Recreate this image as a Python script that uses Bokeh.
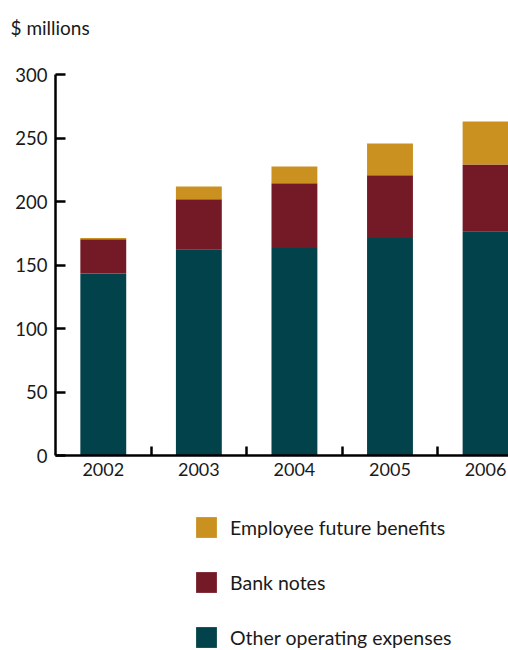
from bokeh.plotting import figure
from bokeh.models import Range1d, FixedTicker, Legend, LegendItem
from bokeh.layouts import column
from bokeh.embed import file_html
from bokeh.resources import INLINE

years = ["2002", "2003", "2004", "2005", "2006"]
other = [143.3, 162.4, 163.4, 171.3, 176.5]
bank_notes = [26.9, 39.3, 50.9, 49.3, 52.7]
employee = [1.1, 10.2, 13.3, 25.1, 33.8]
y_ticks = [0, 50, 100, 150, 200, 250, 300]

series_names = ["Other operating expenses", "Bank notes", "Employee future benefits"]
colors = ["#02424A", "#741A27", "#CA9120"]
unit_label = "$ millions"

FONT = "Lato"
TXT = "#1a1a1a"

xs = [i + 0.5 for i in range(len(years))]
data = dict(x=xs, other=other, bank=bank_notes, emp=employee)

# Header carrying the unit label as its title
hf = figure(frame_width=453, frame_height=5, output_backend="svg", toolbar_location=None,
            x_range=Range1d(0, 1), y_range=Range1d(0, 1),
            x_axis_type=None, y_axis_type=None,
            min_border_left=55, min_border_right=0, min_border_top=43, min_border_bottom=0)
hf.outline_line_color = None
hf.xgrid.grid_line_color = None
hf.ygrid.grid_line_color = None
hf.title.text = unit_label
hf.title.text_font = FONT
hf.title.text_font_size = "19px"
hf.title.text_font_style = "normal"
hf.title.text_color = TXT
hf.title.align = "left"
hf.title.offset = -45
hf.title.standoff = 10

p = figure(frame_width=453, frame_height=381, output_backend="svg", toolbar_location=None,
           x_range=Range1d(0, 4.74), y_range=Range1d(0, 300),
           min_border_left=55, min_border_right=0, min_border_top=26,
           min_border_bottom=40)

rs = p.vbar_stack(["other", "bank", "emp"], x="x", width=0.48, color=colors,
                  source=data, line_width=0)

p.outline_line_color = None
p.xgrid.grid_line_color = None
p.ygrid.grid_line_color = None

xa = p.xaxis[0]
xa.ticker = FixedTicker(ticks=xs, minor_ticks=[1, 2, 3, 4])
xa.major_label_overrides = {x: y for x, y in zip(xs, years)}
xa.major_tick_in = 0
xa.major_tick_out = 0
xa.minor_tick_in = 9
xa.minor_tick_out = 0
xa.minor_tick_line_width = 2.5
xa.minor_tick_line_color = "black"
xa.axis_line_width = 2.5
xa.axis_line_color = "black"
xa.major_label_text_font = FONT
xa.major_label_text_font_size = "18px"
xa.major_label_text_color = TXT
xa.major_label_standoff = 7

ya = p.yaxis[0]
ya.ticker = FixedTicker(ticks=y_ticks, minor_ticks=[])
ya.major_tick_in = 10
ya.major_tick_out = 0
ya.major_tick_line_width = 2.5
ya.major_tick_line_color = "black"
ya.axis_line_width = 2.5
ya.axis_line_color = "black"
ya.major_label_text_font = FONT
ya.major_label_text_font_size = "18.5px"
ya.major_label_text_color = TXT
ya.major_label_standoff = 8

# Legend panel below the chart
lf = figure(frame_width=508, frame_height=155, output_backend="svg", toolbar_location=None,
            x_range=Range1d(0, 1), y_range=Range1d(0, 1),
            x_axis_type=None, y_axis_type=None,
            min_border_left=0, min_border_right=0, min_border_top=0, min_border_bottom=0)
lf.outline_line_color = None
lf.xgrid.grid_line_color = None
lf.ygrid.grid_line_color = None
lrs = lf.vbar_stack(["other", "bank", "emp"], x="x", width=0.48, color=colors,
                    source=data, line_width=0)
for r in lrs:
    r.visible = False

items = [LegendItem(label=n, renderers=[r]) for n, r in zip(series_names, lrs)][::-1]
legend = Legend(items=items, location=(193, 0), orientation="vertical",
                glyph_width=26, glyph_height=26, label_standoff=11,
                spacing=29, padding=0, margin=0,
                label_text_font=FONT, label_text_font_size="19.5px",
                label_text_color=TXT, label_height=26,
                border_line_color=None, background_fill_alpha=0)
lf.add_layout(legend, "center")

layout = column(hf, p, lf, spacing=0)
open("out.html", "w").write(file_html(layout, INLINE))
